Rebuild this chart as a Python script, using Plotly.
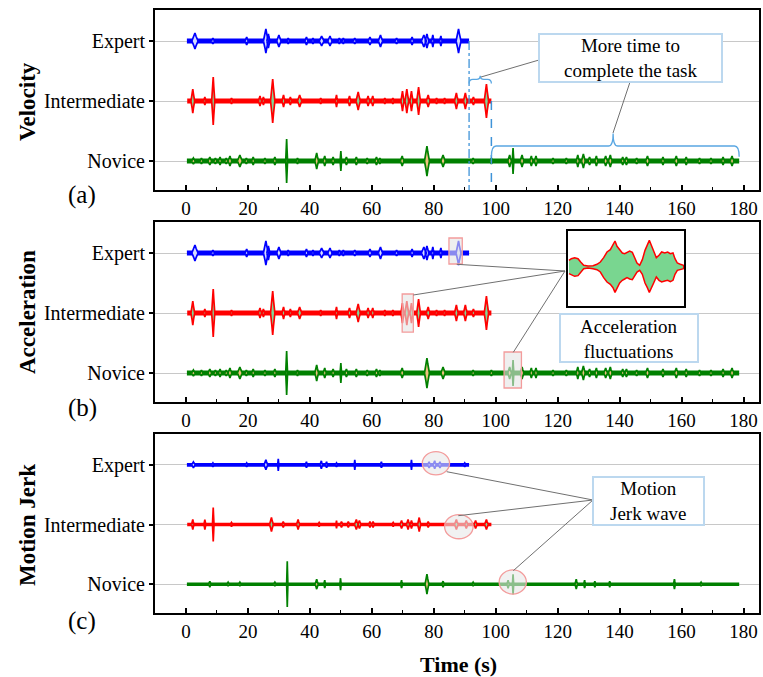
import plotly.graph_objects as go

W, H = 763, 677
SERIF = "Liberation Serif"

# ---------------------------------------------------------------- data
ROW_NAMES = ["Novice", "Intermediate", "Expert"]
ROW_POS = [0, 1, 2]
X_TICKS = [0, 20, 40, 60, 80, 100, 120, 140, 160, 180]

# recording span of each participant (s)
SPAN_EXPERT = (0.3, 91.4)
SPAN_INTER = (0.4, 98.6)
SPAN_NOVICE = (0.3, 178.6)

# bursts of the velocity signal: (time s, peak amplitude, half duration s)
VEL_EXPERT = [
    (2.9, 8, 1.0), (8.7, 3, 0.5), (19.6, 4, 0.5), (25.8, 12, 0.8), (26.6, 7, 0.5),
    (30.0, 6, 0.7), (33.0, 3, 0.4), (38.9, 4, 0.5), (41.0, 3, 0.4), (43.8, 5, 0.8),
    (46.5, 5, 0.7), (49.5, 3, 0.4), (50.8, 3, 0.4), (54.5, 3, 0.5), (59.4, 4, 0.6),
    (62.8, 6, 0.7), (68.0, 3, 0.5), (73.0, 4, 0.5), (76.8, 6, 0.8), (77.8, 7, 0.6),
    (79.7, 6, 0.4), (82.3, 5, 0.4), (88.0, 12, 0.8),
]
VEL_INTER = [
    (2.2, 12, 0.6), (6.1, 4, 0.4), (8.8, 24, 0.5), (14.7, 3, 0.4), (23.9, 5, 0.5),
    (25.0, 4, 0.4), (28.0, 22, 0.7), (31.5, 6, 0.5), (33.7, 4, 0.4), (36.7, 6, 0.7),
    (43.5, 3, 0.4), (48.6, 6, 0.4), (52.8, 5, 0.5), (55.6, 9, 0.7), (58.8, 5, 0.5),
    (60.3, 5, 0.5), (64.2, 3, 0.4), (66.8, 3, 0.4), (69.9, 10, 0.5), (71.3, 12, 0.6),
    (72.8, 10, 0.5), (75.1, 14, 0.6), (78.2, 6, 0.6), (80.9, 3, 0.4), (83.5, 3, 0.4),
    (87.3, 8, 0.6), (90.2, 8, 0.6), (92.8, 4, 0.5), (97.0, 17, 0.7),
]
VEL_NOVICE = [
    (2.4, 3, 0.6), (5.0, 3, 0.5), (7.7, 4, 0.6), (9.5, 3, 0.5), (11.0, 4, 0.5),
    (13.0, 3, 0.5), (14.2, 5, 0.6), (17.4, 6, 0.8), (19.5, 3, 0.5), (21.7, 4, 0.5),
    (25.5, 3, 0.5), (28.7, 4, 0.5), (32.5, 22, 0.3), (36.0, 3, 0.4), (42.2, 8, 0.6),
    (44.8, 5, 0.5), (47.5, 4, 0.5), (50.0, 10, 0.25), (51.8, 4, 0.5), (55.0, 4, 0.5),
    (58.5, 3, 0.5), (61.5, 4, 0.5), (62.6, 3, 0.4), (69.8, 5, 0.6), (77.8, 15, 0.8),
    (83.0, 6, 0.7), (92.7, 3, 0.5), (98.6, 3, 0.5), (104.5, 6, 0.6), (105.6, 13, 0.25),
    (108.5, 6, 0.6), (111.5, 5, 0.5), (113.0, 5, 0.5), (118.5, 3, 0.5), (122.8, 3, 0.5),
    (126.5, 6, 0.5), (128.3, 7, 0.6), (130.3, 4, 0.5), (132.5, 5, 0.5), (135.5, 5, 0.6),
    (137.0, 6, 0.6), (141.0, 4, 0.5), (142.2, 4, 0.5), (145.5, 3, 0.5), (149.0, 5, 0.6),
    (154.0, 4, 0.5), (158.3, 5, 0.6), (161.5, 4, 0.5), (165.8, 3, 0.5), (169.5, 3, 0.5),
    (173.4, 4, 0.5), (176.3, 5, 0.6),
]

# acceleration bursts share the velocity timeline
ACC_EXPERT = list(VEL_EXPERT)
ACC_INTER = list(VEL_INTER)
ACC_NOVICE = list(VEL_NOVICE)

# bursts of the jerk signal
JERK_EXPERT = [
    (2.4, 3, 0.6), (8.7, 2, 0.4), (19.6, 2, 0.4), (25.8, 5, 0.6), (29.8, 6, 0.2),
    (38.9, 3, 0.4), (43.7, 4, 0.4), (45.4, 3, 0.4), (48.6, 2, 0.4), (54.5, 5, 0.2),
    (63.1, 3, 0.4), (72.8, 5, 0.2), (78.5, 3, 0.5), (80.3, 4, 0.5), (82.0, 3, 0.5),
    (90.0, 2, 0.4),
]
JERK_INTER = [
    (2.2, 5, 0.4), (6.1, 5, 0.3), (8.8, 17, 0.25), (14.7, 2, 0.4), (27.6, 7, 0.6),
    (31.4, 3, 0.4), (36.2, 5, 0.5), (43.0, 2, 0.4), (48.6, 4, 0.2), (50.2, 3, 0.4),
    (52.4, 3, 0.4), (55.0, 5, 0.6), (56.0, 4, 0.5), (59.4, 3, 0.4), (60.4, 3, 0.4),
    (66.9, 2, 0.4), (69.6, 4, 0.5), (71.7, 5, 0.5), (72.8, 4, 0.4), (75.3, 7, 0.5),
    (78.2, 3, 0.4), (87.3, 5, 0.6), (90.5, 4, 0.5), (93.5, 4, 0.5), (97.0, 5, 0.6),
]
JERK_NOVICE = [
    (7.7, 3, 0.4), (13.6, 2, 0.4), (17.4, 2, 0.4), (28.7, 2, 0.4), (32.7, 23, 0.2),
    (42.2, 5, 0.5), (44.8, 4, 0.3), (49.9, 6, 0.2), (69.6, 4, 0.3), (77.8, 10, 0.6),
    (83.0, 3, 0.4), (92.7, 2, 0.4), (104.0, 4, 0.4), (105.6, 10, 0.2), (126.0, 5, 0.4),
    (128.7, 4, 0.3), (132.0, 3, 0.3), (136.8, 3, 0.3), (157.7, 5, 0.3), (166.3, 2, 0.4),
]

# zoomed acceleration fluctuation (relative time, upper / lower envelope)
INSET_T = [0, 7, 17, 27, 35, 44, 57, 72, 84, 94, 104, 114, 124, 132, 138, 144, 152,
           160, 167, 174, 182, 190, 197, 204, 212, 220, 228, 235, 241, 247, 254, 262,
           270, 278, 287, 296, 304, 312, 318, 325, 334, 344]
INSET_UP = [20, 25, 28, 25, 15, 5, 3, 4, 8, 15, 28, 45, 52, 68, 78, 62, 50, 42, 40,
            45, 48, 44, 28, 12, 5, 22, 50, 65, 80, 65, 45, 28, 35, 45, 42, 45, 40, 42,
            25, 12, 8, 5]
INSET_LO = [20, 22, 28, 26, 15, 5, 3, 5, 8, 15, 32, 45, 52, 62, 76, 62, 48, 40, 36,
            32, 36, 38, 28, 15, 10, 22, 48, 62, 76, 65, 48, 30, 40, 45, 42, 40, 44, 40,
            22, 10, 8, 5]

# ---------------------------------------------------------------- style
AMP_UNIT = 1 / 60.0
COLORS = {"Expert": "#0000ff", "Intermediate": "#ff0000", "Novice": "#008000"}
FILLS = {"Expert": "#d6ddff", "Intermediate": "#7fd99a", "Novice": "#f0c27f"}


def px(x):
    return x / W


def py(y):
    return 1 - y / H


def bursts_to_path(bursts, row):
    xs, ys = [], []
    for t, a, hw in bursts:
        h = a * AMP_UNIT
        xs += [t - hw, t - 0.35 * hw, t, t + 0.35 * hw, t + hw,
               t + 0.35 * hw, t, t - 0.35 * hw, t - hw, None]
        ys += [row, row + 0.6 * h, row + h, row + 0.6 * h, row,
               row - 0.6 * h, row - h, row - 0.6 * h, row, None]
    return xs, ys


fig = go.Figure()

panels = [
    ("x", "y", [(VEL_EXPERT, "Expert", SPAN_EXPERT), (VEL_INTER, "Intermediate", SPAN_INTER),
                (VEL_NOVICE, "Novice", SPAN_NOVICE)], 4.8),
    ("x2", "y2", [(ACC_EXPERT, "Expert", SPAN_EXPERT), (ACC_INTER, "Intermediate", SPAN_INTER),
                  (ACC_NOVICE, "Novice", SPAN_NOVICE)], 4.8),
    ("x3", "y3", [(JERK_EXPERT, "Expert", SPAN_EXPERT), (JERK_INTER, "Intermediate", SPAN_INTER),
                  (JERK_NOVICE, "Novice", SPAN_NOVICE)], 3.6),
]

for xa, ya, series, base_w in panels:
    for bursts, name, span in series:
        row = ROW_POS[ROW_NAMES.index(name)]
        fig.add_trace(go.Scatter(
            x=[span[0], span[1]], y=[row, row], mode="lines",
            line=dict(color=COLORS[name], width=base_w),
            xaxis=xa, yaxis=ya, hoverinfo="skip", showlegend=False))
        bx, by = bursts_to_path(bursts, row)
        fig.add_trace(go.Scatter(
            x=bx, y=by, mode="lines", fill="toself", fillcolor=FILLS[name],
            line=dict(color=COLORS[name], width=1.7),
            xaxis=xa, yaxis=ya, hoverinfo="skip", showlegend=False))

# inset with the zoomed fluctuation
inset_x = INSET_T + INSET_T[::-1]
inset_y = INSET_UP + [-v for v in INSET_LO[::-1]]
fig.add_trace(go.Scatter(
    x=inset_x, y=inset_y, mode="lines", fill="toself", fillcolor="#79d690",
    line=dict(color="#ff0000", width=1.5), xaxis="x4", yaxis="y4",
    hoverinfo="skip", showlegend=False))

# ---------------------------------------------------------------- axes
YR = [-0.483, 2.517]
frames = {1: (10, 190), 2: (222, 402), 3: (434, 613)}
axis_font = dict(family=SERIF, size=19, color="black")
layout_axes = {}
for n, (top, bot) in frames.items():
    sfx = "" if n == 1 else str(n)
    layout_axes["xaxis" + sfx] = dict(
        domain=[px(155), px(759)], range=[-10, 185], anchor="y" + sfx,
        tickmode="array", tickvals=X_TICKS, ticks="inside", ticklen=5, tickwidth=1.5,
        tickcolor="black",
        minor=dict(tickmode="linear", tick0=0, dtick=10, ticks="inside", ticklen=3,
                   tickwidth=1.2, tickcolor="black"),
        showline=True, mirror=True, linecolor="black", linewidth=2,
        showgrid=False, zeroline=False, tickfont=axis_font)
    layout_axes["yaxis" + sfx] = dict(
        domain=[py(bot), py(top)], range=YR, anchor="x" + sfx,
        tickmode="array", tickvals=ROW_POS, ticktext=ROW_NAMES,
        ticks="outside", ticklen=4, tickwidth=1.5, tickcolor="black",
        showline=True, mirror=True, linecolor="black", linewidth=2,
        showgrid=True, gridcolor="#c8c8c8", gridwidth=1.2, zeroline=False,
        tickfont=dict(family=SERIF, size=20, color="black"))

layout_axes["xaxis4"] = dict(
    domain=[px(568), px(684)], range=[-3, 345], anchor="y4",
    showline=True, mirror=True, linecolor="black", linewidth=1.5,
    showticklabels=False, ticks="", showgrid=False, zeroline=False)
layout_axes["yaxis4"] = dict(
    domain=[py(306), py(231)], range=[-117, 108], anchor="x4",
    showline=True, mirror=True, linecolor="black", linewidth=1.5,
    showticklabels=False, ticks="", showgrid=False, zeroline=False)

# ---------------------------------------------------------------- overlays
shapes = []
annotations = []

BLUE_DASH = "#3f93d8"
BRACE = "#5aa7e2"
GREY = "#707070"
BOX_EDGE = "#bcd8ef"
PINK = "#f39c9c"


def text_at(x, y, text, size, angle=0):
    annotations.append(dict(x=px(x), y=py(y), xref="paper", yref="paper",
                            xanchor="center", yanchor="middle", text=text,
                            textangle=angle, showarrow=False,
                            font=dict(family=SERIF, size=size, color="black")))


def brace_path(x0, x1, xm, y_end, y_mid, y_tip, dx):
    return (f"M {x0},{y_end} Q {x0},{y_mid} {x0 + dx},{y_mid} "
            f"L {xm - dx},{y_mid} Q {xm},{y_mid} {xm},{y_tip} "
            f"Q {xm},{y_mid} {xm + dx},{y_mid} "
            f"L {x1 - dx},{y_mid} Q {x1},{y_mid} {x1},{y_end}")


# finish-time markers in the velocity panel
shapes.append(dict(type="line", xref="x", yref="y", x0=SPAN_EXPERT[1], x1=SPAN_EXPERT[1],
                   y0=2.0, y1=YR[0], line=dict(color=BLUE_DASH, width=1.3, dash="dashdot")))
shapes.append(dict(type="line", xref="x", yref="y", x0=SPAN_INTER[1], x1=SPAN_INTER[1],
                   y0=1.0, y1=YR[0], line=dict(color=BLUE_DASH, width=1.5, dash="dash")))
shapes.append(dict(type="path", xref="x", yref="y",
                   path=brace_path(SPAN_EXPERT[1], SPAN_INTER[1], 95.0, 1.29, 1.36, 1.42, 1.2),
                   line=dict(color=BRACE, width=1.3)))
shapes.append(dict(type="path", xref="x", yref="y",
                   path=brace_path(SPAN_INTER[1], SPAN_NOVICE[1], 137.9, 0.07, 0.25, 0.46, 1.5),
                   line=dict(color=BRACE, width=1.3)))

# callout box: velocity panel
shapes.append(dict(type="line", xref="paper", yref="paper", x0=px(539), y0=py(60),
                   x1=px(481), y1=py(77), line=dict(color=GREY, width=1)))
shapes.append(dict(type="line", xref="paper", yref="paper", x0=px(630), y0=py(82),
                   x1=px(613), y1=py(133), line=dict(color=GREY, width=1)))
shapes.append(dict(type="rect", xref="paper", yref="paper", x0=px(539), x1=px(722),
                   y0=py(82), y1=py(34), fillcolor="white",
                   line=dict(color=BOX_EDGE, width=2), layer="above"))
text_at(630.5, 58, "More time to<br>complete the task", 19)

# highlighted fluctuations in the acceleration panel
for x0, x1, y0, y1 in [(84.9, 89.2, 1.817, 2.25), (69.8, 73.4, 0.683, 1.317),
                       (102.7, 108.3, -0.25, 0.35)]:
    shapes.append(dict(type="rect", xref="x2", yref="y2", x0=x0, x1=x1, y0=y0, y1=y1,
                       fillcolor="rgba(228,228,228,0.6)", line=dict(color=PINK, width=1.3),
                       layer="above"))
for sx, sy in [(456.7, 264.3), (413.3, 295), (513.3, 352.3)]:
    shapes.append(dict(type="line", xref="paper", yref="paper", x0=px(sx), y0=py(sy),
                       x1=px(565), y1=py(271), line=dict(color=GREY, width=1)))
shapes.append(dict(type="rect", xref="paper", yref="paper", x0=px(560), x1=px(698),
                   y0=py(362), y1=py(314), fillcolor="white",
                   line=dict(color=BOX_EDGE, width=2), layer="above"))
text_at(629, 339, "Acceleration<br>fluctuations", 19)

# highlighted jerk waves
for x0, x1, y0, y1 in [(76.3, 85.1, 1.833, 2.223), (83.5, 92.7, 0.761, 1.167),
                       (101.1, 109.9, -0.166, 0.24)]:
    shapes.append(dict(type="circle", xref="x3", yref="y3", x0=x0, x1=x1, y0=y0, y1=y1,
                       fillcolor="rgba(232,232,232,0.6)", line=dict(color=PINK, width=1.3),
                       layer="above"))
for sx, sy in [(446.7, 471.7), (458.3, 515.7), (513.3, 570.7)]:
    shapes.append(dict(type="line", xref="paper", yref="paper", x0=px(sx), y0=py(sy),
                       x1=px(593), y1=py(500), line=dict(color=GREY, width=1)))
shapes.append(dict(type="rect", xref="paper", yref="paper", x0=px(593), x1=px(704),
                   y0=py(525), y1=py(477), fillcolor="white",
                   line=dict(color=BOX_EDGE, width=2), layer="above"))
text_at(648.5, 501, "Motion<br>Jerk wave", 19)

# panel titles and letters
for label, cy in [("Velocity", 102), ("Acceleration", 312), ("Motion Jerk", 525)]:
    text_at(27, cy, f"<b>{label}</b>", 23, angle=-90)
for label, cy in [("(a)", 195), ("(b)", 408), ("(c)", 621)]:
    text_at(82, cy, label, 25)
text_at(459, 664, "<b>Time (s)</b>", 22)

fig.update_layout(
    width=W, height=H, margin=dict(l=0, r=0, t=0, b=0),
    paper_bgcolor="white", plot_bgcolor="white", showlegend=False,
    shapes=shapes, annotations=annotations, **layout_axes)

fig.write_html("out.html")
